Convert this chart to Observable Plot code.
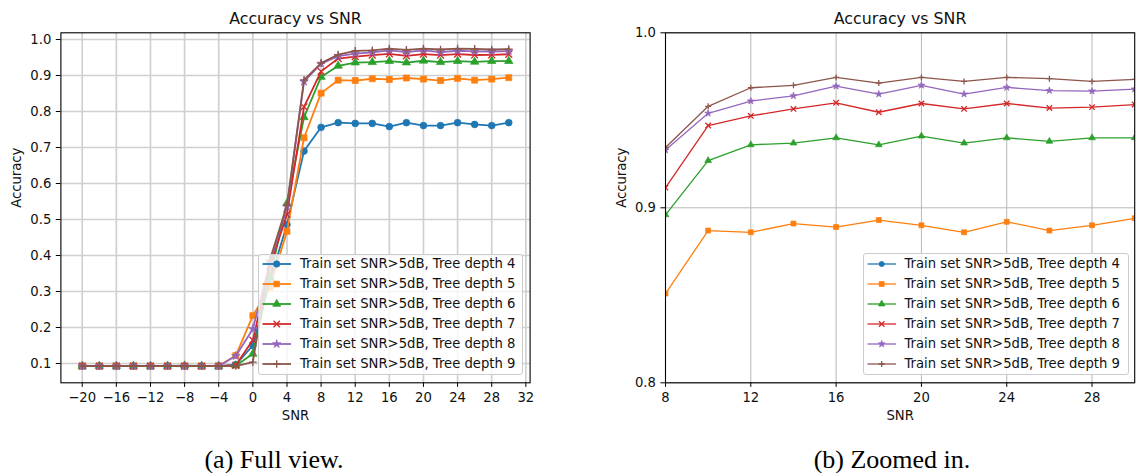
<!DOCTYPE html>
<html><head><meta charset="utf-8">
<script src="https://cdn.jsdelivr.net/npm/d3@7"></script>
<script src="https://cdn.jsdelivr.net/npm/@observablehq/plot@0.6"></script>
<style>
body{margin:0;background:#fff;}
#root{position:relative;width:1146px;height:473px;overflow:hidden;font-family:"DejaVu Sans",sans-serif;}
.panel{position:absolute;top:0;}
.legend{position:absolute;background:rgba(255,255,255,0.8);border:1px solid #cccccc;border-radius:3px;box-sizing:border-box;}
.lrow{position:absolute;left:0;height:20px;width:100%;}
.lrow svg{position:absolute;left:0;top:0;overflow:visible;}
.lrow span{position:absolute;top:0;line-height:20px;font-size:13.2px;color:#111;white-space:nowrap;font-family:"DejaVu Sans",sans-serif;}
.cap{position:absolute;font-family:"Liberation Serif",serif;font-size:26px;transform:translate(-50%,-50%);white-space:nowrap;color:#000;}
</style></head><body><div id="root"></div>
<script>
// ---- data ----
const snr = [-20,-18,-16,-14,-12,-10,-8,-6,-4,-2,0,2,4,6,8,10,12,14,16,18,20,22,24,26,28,30];
const depth4 = [0.093,0.093,0.093,0.093,0.093,0.093,0.093,0.093,0.093,0.097,0.150,0.330,0.486,0.690,0.756,0.769,0.767,0.767,0.758,0.769,0.761,0.761,0.769,0.764,0.761,0.769];
const depth5 = [0.093,0.093,0.093,0.093,0.093,0.093,0.093,0.093,0.093,0.122,0.233,0.312,0.467,0.727,0.851,0.887,0.886,0.891,0.889,0.893,0.890,0.886,0.892,0.887,0.890,0.894];
const depth6 = [0.093,0.093,0.093,0.093,0.093,0.093,0.094,0.093,0.093,0.094,0.127,0.340,0.545,0.784,0.896,0.927,0.936,0.937,0.940,0.936,0.941,0.937,0.940,0.938,0.940,0.940];
const depth7 = [0.093,0.093,0.093,0.093,0.093,0.093,0.093,0.093,0.093,0.095,0.165,0.370,0.514,0.813,0.9115,0.947,0.9525,0.9565,0.960,0.9546,0.9596,0.9565,0.9596,0.957,0.9575,0.959];
const depth8 = [0.093,0.093,0.093,0.093,0.093,0.093,0.093,0.093,0.093,0.121,0.196,0.380,0.536,0.883,0.933,0.954,0.961,0.964,0.9695,0.965,0.970,0.965,0.9688,0.967,0.9667,0.9678];
const depth9 = [0.093,0.093,0.093,0.093,0.093,0.093,0.093,0.093,0.093,0.093,0.104,0.388,0.540,0.888,0.9345,0.958,0.9686,0.970,0.9745,0.9713,0.9745,0.9722,0.9745,0.9738,0.9722,0.9734];
const seriesNames = ["Train set SNR>5dB, Tree depth 4","Train set SNR>5dB, Tree depth 5","Train set SNR>5dB, Tree depth 6","Train set SNR>5dB, Tree depth 7","Train set SNR>5dB, Tree depth 8","Train set SNR>5dB, Tree depth 9"];
const colors = ["#1f77b4","#ff7f0e","#2ca02c","#d62728","#9467bd","#8c564b"];
const symbols = ["circle","square","triangle","times","star","plus"];
const xTicksFull = [-20,-16,-12,-8,-4,0,4,8,12,16,20,24,28,32];
const yTicksFull = [0.1,0.2,0.3,0.4,0.5,0.6,0.7,0.8,0.9,1.0];
const xTicksZoom = [8,12,16,20,24,28];
const yTicksZoom = [0.8,0.9,1.0];
const titleText = "Accuracy vs SNR";
const xLabel = "SNR";
const yLabel = "Accuracy";
const captions = ["(a) Full view.","(b) Zoomed in."];

const depths = [depth4,depth5,depth6,depth7,depth8,depth9];
const seriesData = depths.map(arr => arr.map((v,j) => ({snr: snr[j], acc: v})));
const strokeOnly = new Set(["times","plus"]);
const fmtMinus = d => (d < 0 ? "\u2212" + Math.abs(d) : String(d));
const fmt1 = d3.format(".1f");

function seriesMarks(rs, lw, clip) {
  const m = [];
  seriesData.forEach((data, i) => {
    m.push(Plot.line(data, {x: "snr", y: "acc", stroke: colors[i], strokeWidth: lw, clip}));
    const so = strokeOnly.has(symbols[i]);
    m.push(Plot.dot(data, so
      ? {x: "snr", y: "acc", symbol: symbols[i], r: rs[i], stroke: colors[i], strokeWidth: 1.3, fill: "none", clip}
      : {x: "snr", y: "acc", symbol: symbols[i], r: rs[i], fill: colors[i], stroke: colors[i], strokeWidth: 0.7, clip}));
  });
  return m;
}

function textMarks() {
  return [
    Plot.text([titleText], {text: d => d, frameAnchor: "top", dy: -14, fontSize: 15.8, lineAnchor: "middle", fill: "#111"}),
    Plot.text([xLabel], {text: d => d, frameAnchor: "bottom", dy: 32.7, lineAnchor: "middle", fill: "#111"}),
    Plot.text([yLabel], {text: d => d, frameAnchor: "left", dx: -44, rotate: -90, lineAnchor: "middle", fill: "#111"})
  ];
}

const style = {fontFamily: "DejaVu Sans, sans-serif", fontSize: "13.2px", color: "#111", background: "transparent", overflow: "visible"};

const left = Plot.plot({
  width: 573, height: 473,
  marginLeft: 60.4, marginRight: 43.4, marginTop: 32.3, marginBottom: 90.7,
  x: {domain: [-22.5, 32.5]},
  y: {domain: [0.0464, 1.0186]},
  style,
  marks: [
    Plot.gridX(xTicksFull, {stroke: "#d0d0d0", strokeOpacity: 1, strokeWidth: 1.7}),
    Plot.gridY(yTicksFull, {stroke: "#d0d0d0", strokeOpacity: 1, strokeWidth: 1.7}),
    ...seriesMarks([3.4,3.4,3.1,3.2,2.7,2.6], 1.8, false),
    Plot.axisX({ticks: xTicksFull, tickFormat: fmtMinus, tickSize: 4.6, tickPadding: 5, label: null, stroke: "#000"}),
    Plot.axisY({ticks: yTicksFull, tickFormat: fmt1, tickSize: 4.6, tickPadding: 5, label: null, stroke: "#000"}),
    Plot.frame({stroke: "#000", strokeWidth: 1.1}),
    ...textMarks()
  ]
});

const right = Plot.plot({
  width: 573, height: 473,
  marginLeft: 92, marginRight: 11.8, marginTop: 32.3, marginBottom: 90.7,
  x: {domain: [8, 30]},
  y: {domain: [0.8, 1.0]},
  style,
  marks: [
    Plot.gridX(xTicksZoom, {stroke: "#b8b8b8", strokeOpacity: 1, strokeWidth: 1}),
    Plot.gridY(yTicksZoom, {stroke: "#b8b8b8", strokeOpacity: 1, strokeWidth: 1}),
    ...seriesMarks([2.6,2.8,2.5,2.6,2.2,2.1], 1.3, true),
    Plot.axisX({ticks: xTicksZoom, tickFormat: fmtMinus, tickSize: 4.6, tickPadding: 5, label: null, stroke: "#000"}),
    Plot.axisY({ticks: yTicksZoom, tickFormat: fmt1, tickSize: 4.6, tickPadding: 5, label: null, stroke: "#000"}),
    Plot.frame({stroke: "#000", strokeWidth: 1.1}),
    ...textMarks()
  ]
});

const root = document.getElementById("root");
left.classList.add("panel"); left.style.left = "0px";
right.classList.add("panel"); right.style.left = "573px";
root.appendChild(left); root.appendChild(right);

const symType = {circle: d3.symbolCircle, square: d3.symbolSquare, triangle: d3.symbolTriangle,
  times: d3.symbolTimes || d3.symbolCross, star: d3.symbolStar, plus: d3.symbolPlus || d3.symbolCross};

function legend(L, T, W, H, rs, lw) {
  const box = document.createElement("div");
  box.className = "legend";
  Object.assign(box.style, {left: L + "px", top: T + "px", width: W + "px", height: H + "px"});
  seriesNames.forEach((name, i) => {
    const row = document.createElement("div");
    row.className = "lrow";
    row.style.top = (263.3 + i * 19.9 - T - 10) + "px";
    const so = strokeOnly.has(symbols[i]);
    const path = d3.symbol(symType[symbols[i]], Math.PI * rs[i] * rs[i])();
    row.innerHTML = `<svg width="40" height="20"><line x1="3.5" x2="32" y1="10" y2="10" stroke="${colors[i]}" stroke-width="${lw}"/>` +
      `<path d="${path}" transform="translate(17.7,10)" fill="${so ? "none" : colors[i]}" stroke="${colors[i]}" stroke-width="${so ? 1.3 : 0.7}"/></svg>` +
      `<span style="left:41px">${name.replace(">", "&gt;")}</span>`;
    box.appendChild(row);
  });
  root.appendChild(box);
}
legend(258, 253.5, 265, 121.5, [3.2,3.2,3.0,3.0,2.6,2.5], 1.8);
legend(862.5, 253, 266, 122, [2.6,2.8,2.5,2.6,2.2,2.1], 1.3);

[[274, 460], [892, 460]].forEach(([cx, cy], i) => {
  const c = document.createElement("div");
  c.className = "cap";
  c.style.left = cx + "px"; c.style.top = cy + "px";
  c.textContent = captions[i];
  root.appendChild(c);
});
</script></body></html>
